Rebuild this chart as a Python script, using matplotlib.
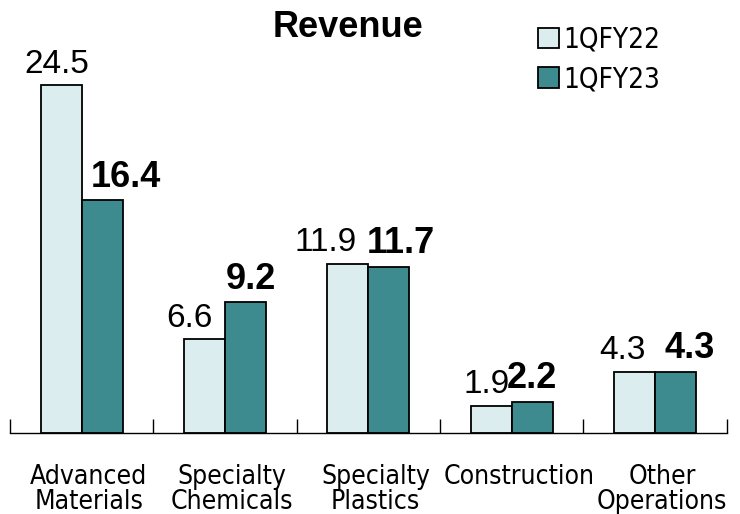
import matplotlib.pyplot as plt
import numpy as np

categories = ["Advanced\nMaterials", "Specialty\nChemicals", "Specialty\nPlastics",
              "Construction", "Other\nOperations"]
fy22 = [24.5, 6.6, 11.9, 1.9, 4.3]
fy23 = [16.4, 9.2, 11.7, 2.2, 4.3]
series_names = ["1QFY22", "1QFY23"]

light = "#dcedf0"
dark = "#3d8b8f"

# label nudges (points), to sit like the original
dx22 = [-3, -11, -16, -3, -9]
dx23 = [17, 4, 9, 0, 10]

fig = plt.figure(figsize=(7.4, 5.14), dpi=100)
ax = fig.add_axes([0.0135, 0.1576, 0.9685, 0.8424])

x = np.arange(len(categories))
w = 0.286
b1 = ax.bar(x - w / 2, fy22, w, color=light, edgecolor="black", linewidth=1.3, label=series_names[0])
b2 = ax.bar(x + w / 2, fy23, w, color=dark, edgecolor="black", linewidth=1.3, label=series_names[1])

# value labels
for rect, v, d in zip(b1, fy22, dx22):
    ax.annotate(f"{v:.1f}", (rect.get_x() + rect.get_width() / 2, v),
                xytext=(d, 4), textcoords="offset points", ha="center", va="bottom",
                fontsize=24, family="Liberation Sans")
for rect, v, d in zip(b2, fy23, dx23):
    ax.annotate(f"{v:.1f}", (rect.get_x() + rect.get_width() / 2, v),
                xytext=(d, 4), textcoords="offset points", ha="center", va="bottom",
                fontsize=26, fontweight="bold", family="Liberation Sans")

ax.set_xlim(-0.5, len(categories) - 0.5)
ax.set_ylim(0, 30.5)
for s in ["top", "right", "left"]:
    ax.spines[s].set_visible(False)
ax.spines["bottom"].set_linewidth(1.0)
ax.set_yticks([])

ax.set_xticks(x + 0.05)
ax.set_xticklabels(categories, fontsize=19, family="DejaVu Sans", fontstretch="condensed",
                   linespacing=0.95)
ax.tick_params(axis="x", which="major", length=0, pad=22)
ax.set_xticks(np.arange(len(categories) + 1) - 0.5, minor=True)
ax.tick_params(axis="x", which="minor", length=10, direction="in", width=1.0)

fig.text(0.47, 0.947, "Revenue", ha="center", va="center", fontsize=26,
         fontweight="bold", family="Liberation Sans")

ax.legend(loc="upper left", bbox_to_anchor=(0.71, 0.985), frameon=False,
          prop={"size": 20, "family": "DejaVu Sans", "stretch": "condensed"},
          handlelength=0.75, handleheight=0.75, handletextpad=0.15,
          labelspacing=0.4, borderaxespad=0.3)

fig.savefig("out.png", dpi=100)
